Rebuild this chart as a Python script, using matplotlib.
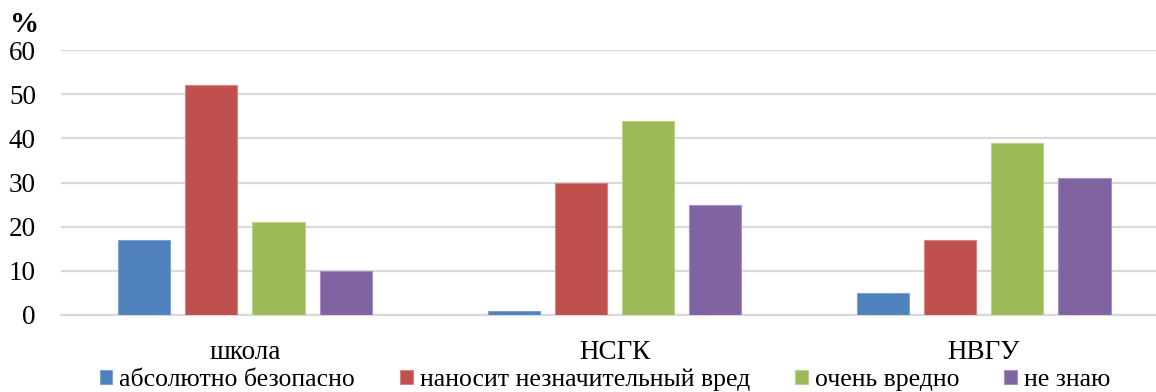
import matplotlib
matplotlib.use("Agg")
import matplotlib.pyplot as plt
import numpy as np

plt.rcParams['font.family'] = ['Liberation Serif', 'DejaVu Serif']

categories = ["школа", "НСГК", "НВГУ"]
series_names = ["абсолютно безопасно", "наносит незначительный вред", "очень вредно", "не знаю"]
safe = [17, 1, 5]
minor_harm = [52, 30, 17]
very_harmful = [21, 44, 39]
dont_know = [10, 25, 31]
values = [safe, minor_harm, very_harmful, dont_know]
colors = ["#4F81BD", "#C0504D", "#9BBB59", "#8064A2"]
edge_colors = ["#7FA3D1", "#D68583", "#B9D18A", "#A391C0"]
y_ticks = [0, 10, 20, 30, 40, 50, 60]

W, H = 1156, 392
fig = plt.figure(figsize=(W / 100, H / 100), dpi=100)
ax = fig.add_axes([61 / W, 1 - 315 / H, (1156 - 61) / W, (315 - 50) / H])

x = np.arange(len(categories))
step = 0.1816
width = 0.141
for i, (vals, c, ec, name) in enumerate(zip(values, colors, edge_colors, series_names)):
    ax.bar(x + (i - 1.5) * step, vals, width, color=c, edgecolor=ec,
           linewidth=0.8, label=name, zorder=3)

ax.set_xlim(-0.498, 2.466)
ax.set_ylim(0, 60)
ax.set_yticks(y_ticks)
ax.set_yticklabels([str(t) for t in y_ticks], fontsize=19.5)
ax.yaxis.grid(True, color="#D9D9D9", linewidth=1.6, zorder=0)
ax.set_axisbelow(True)
ax.tick_params(axis="y", length=0, pad=18)
ax.tick_params(axis="x", length=0, pad=18)
ax.set_xticks(x)
ax.set_xticklabels(categories, fontsize=19.5)
for s in ["top", "right", "left"]:
    ax.spines[s].set_visible(False)
ax.spines["bottom"].set_color("#D9D9D9")
ax.spines["bottom"].set_linewidth(1.6)

fig.text(25 / W, 1 - 24 / H, "%", fontsize=21, fontweight="bold",
         ha="center", va="center")

fig.legend(loc="center", bbox_to_anchor=(605 / W, 1 - 380 / H), ncol=4,
           frameon=False, fontsize=18.5, handlelength=0.5, handleheight=0.5,
           handletextpad=0.27, columnspacing=1.75, borderaxespad=0, borderpad=0)

fig.savefig("out.png", dpi=100)
